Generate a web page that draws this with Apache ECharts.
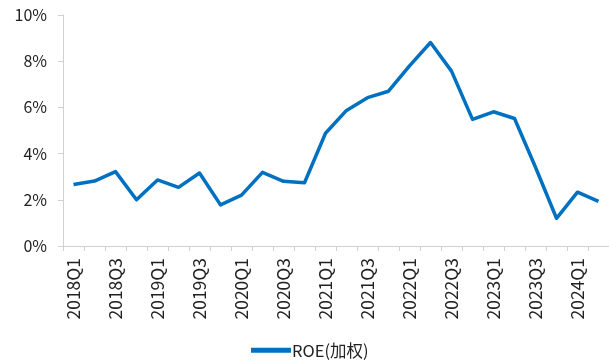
<!DOCTYPE html>
<html>
<head>
<meta charset="utf-8">
<script src="https://cdn.jsdelivr.net/npm/echarts@6/dist/echarts.min.js"></script>
<style>
html,body{margin:0;padding:0;background:#fff;}
#chart{width:609px;height:360px;}
</style>
</head>
<body>
<div id="chart"></div>
<script>
// Quarterly weighted ROE, 2018Q1 – 2024Q2 (%)
const quarters = [
  '2018Q1','2018Q2','2018Q3','2018Q4',
  '2019Q1','2019Q2','2019Q3','2019Q4',
  '2020Q1','2020Q2','2020Q3','2020Q4',
  '2021Q1','2021Q2','2021Q3','2021Q4',
  '2022Q1','2022Q2','2022Q3','2022Q4',
  '2023Q1','2023Q2','2023Q3','2023Q4',
  '2024Q1','2024Q2'
];
const roeWeighted = [
  2.66, 2.81, 3.22, 2.00,
  2.86, 2.54, 3.16, 1.78,
  2.20, 3.19, 2.80, 2.74,
  4.88, 5.87, 6.42, 6.70,
  7.80, 8.81, 7.57, 5.48,
  5.81, 5.52, 3.41, 1.20,
  2.33, 1.93
];
const seriesName = 'ROE(加权)';
const yTicks = [0, 2, 4, 6, 8, 10];

const font = '"Noto Sans CJK SC", "Noto Sans", sans-serif';
const chart = echarts.init(document.getElementById('chart'));
chart.setOption({
  animation: false,
  grid: { left: 63, top: 15, width: 554, height: 231, containLabel: false },
  legend: {
    data: [seriesName],
    top: 342,
    left: 251,
    padding: 0,
    itemWidth: 40,
    itemHeight: 5,
    itemGap: 4,
    icon: 'rect',
    textStyle: { fontFamily: font, fontSize: 16.5, color: '#222', padding: [0, 0, 0, -4] }
  },
  xAxis: {
    type: 'category',
    data: quarters,
    boundaryGap: true,
    axisLine: { lineStyle: { color: '#d0d0d0', width: 1 } },
    axisTick: { show: true, alignWithLabel: false, interval: 0, length: 5, lineStyle: { color: '#d0d0d0' } },
    axisLabel: {
      interval: 1,
      rotate: 90,
      margin: 12,
      fontFamily: font,
      fontSize: 17.5,
      color: '#222'
    },
    splitLine: { show: false }
  },
  yAxis: {
    type: 'value',
    min: yTicks[0],
    max: yTicks[yTicks.length - 1],
    interval: 2,
    axisLine: { show: true, lineStyle: { color: '#d0d0d0', width: 1 } },
    axisTick: { show: true, length: 5, lineStyle: { color: '#d0d0d0' } },
    axisLabel: {
      formatter: v => v + '%',
      margin: 16,
      fontFamily: font,
      fontSize: 16,
      color: '#222'
    },
    splitLine: { show: false }
  },
  series: [{
    name: seriesName,
    type: 'line',
    data: roeWeighted,
    symbol: 'none',
    lineStyle: { color: '#0070C0', width: 3.5, join: 'round' },
    itemStyle: { color: '#0070C0' }
  }]
});
</script>
</body>
</html>
